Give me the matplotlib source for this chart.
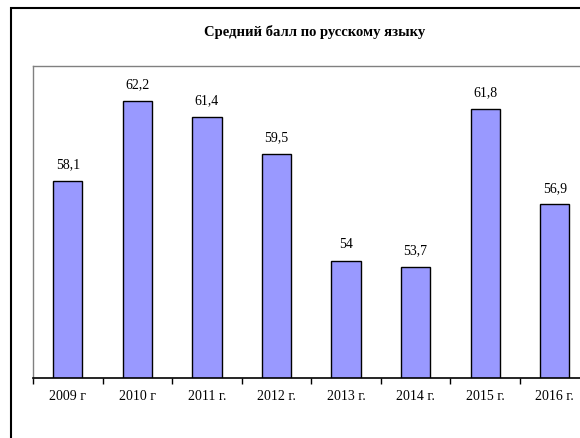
import matplotlib.pyplot as plt
from matplotlib.patches import Rectangle

# Data
years = ["2009 г", "2010 г", "2011 г.", "2012 г.", "2013 г.", "2014 г.", "2015 г.", "2016 г."]
scores = [58.1, 62.2, 61.4, 59.5, 54, 53.7, 61.8, 56.9]
value_labels = ["58,1", "62,2", "61,4", "59,5", "54", "53,7", "61,8", "56,9"]

plt.rcParams['font.family'] = ['Liberation Serif', 'DejaVu Serif']

W, H = 580, 438
fig = plt.figure(figsize=(W / 100, H / 100), dpi=100)
fig.patch.set_facecolor("white")

# outer chart border (runs off the right and bottom edge)
fig.patches.append(Rectangle((11 / W, -0.05), 1.2, 1 - 8 / H + 0.05,
                             transform=fig.transFigure, fill=False,
                             edgecolor="black", linewidth=1.5))

left, right = 33 / W, 589.5 / W
bottom, top = 1 - 378 / H, 1 - 66 / H
ax = fig.add_axes([left, bottom, right - left, top - bottom])

x = list(range(len(years)))
ax.bar(x, scores, width=0.42, color="#9999FF", edgecolor="black", linewidth=1.0)
ax.set_ylim(48, 64)
ax.set_xlim(-0.5, len(years) - 0.5)

for xi, v, lab in zip(x, scores, value_labels):
    ax.annotate(lab, (xi, v), xytext=(0, 7), textcoords="offset points",
                ha="center", va="bottom", fontsize=10)

ax.set_yticks([])
ax.set_xticks([i - 0.5 for i in range(len(years) + 1)])
ax.set_xticklabels([])
ax.set_xticks(x, minor=True)
ax.set_xticklabels(years, minor=True, fontsize=10)
ax.tick_params(axis="x", which="major", direction="out", length=4, width=1, color="black")
ax.tick_params(axis="x", which="minor", length=0, pad=9)

for s in ["top", "left", "right"]:
    ax.spines[s].set_color("#808080")
    ax.spines[s].set_linewidth(1.0)
ax.spines["bottom"].set_color("black")
ax.spines["bottom"].set_linewidth(1.2)

fig.text(315 / W, 1 - 32 / H, "Средний балл по русскому языку", ha="center", va="center",
         fontsize=10.5, fontweight="bold")

fig.savefig("out.png", dpi=100)
